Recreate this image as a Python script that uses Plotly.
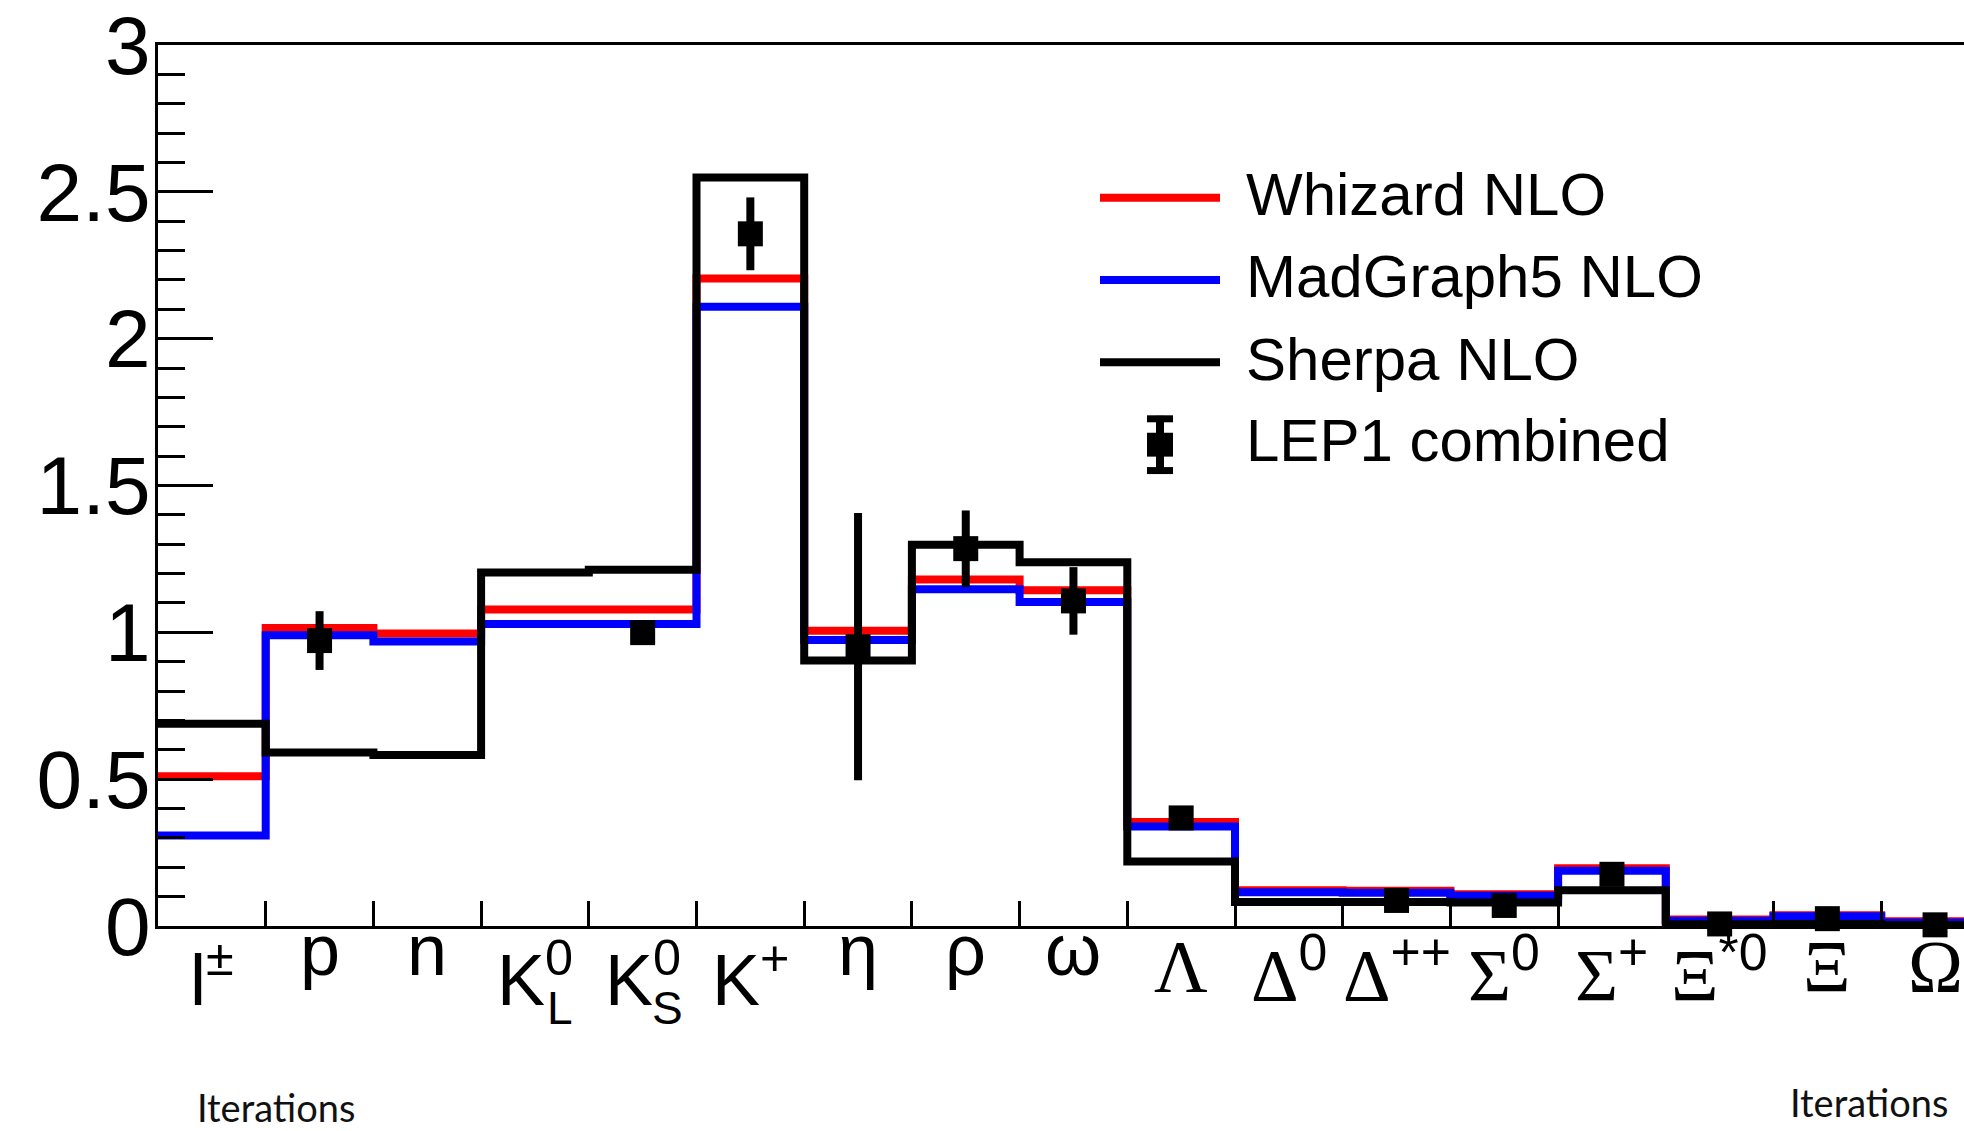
import numpy as np
import plotly.graph_objects as go

# ---- data -------------------------------------------------------------
categories = ["l<sup>±</sup>", "p", "n", "K<sup>0</sup>", "K<sup>0</sup>", "K<sup>+</sup>",
              "η", "ρ", "ω", "Λ", "Δ<sup>0</sup>", "Δ<sup>++</sup>", "Σ<sup>0</sup>",
              "Σ<sup>+</sup>", "Ξ<sup>*0</sup>", "Ξ", "Ω"]
kaon_subscripts = {3: "L", 4: "S"}

whizard = [0.510, 1.015, 0.996, 1.078, 1.078, 2.205, 1.005, 1.180, 1.143,
           0.354, 0.122, 0.120, 0.108, 0.197, 0.022, 0.037, 0.016]
madgraph = [0.308, 0.990, 0.969, 1.028, 1.028, 2.109, 0.974, 1.147, 1.103,
            0.339, 0.115, 0.113, 0.103, 0.188, 0.018, 0.033, 0.012]
sherpa = [0.689, 0.591, 0.582, 1.204, 1.213, 2.549, 0.904, 1.298, 1.239,
          0.220, 0.082, 0.082, 0.080, 0.122, 0.006, 0.007, 0.003]

lep_bins = [1, 4, 5, 6, 7, 8, 9, 11, 12, 13, 14, 15, 16]
lep_values = [0.972, 0.999, 2.357, 0.951, 1.285, 1.107, 0.368, 0.087, 0.070,
              0.176, 0.007, 0.025, 0.004]
lep_errors = [0.100, 0.020, 0.124, 0.455, 0.130, 0.115, 0.010, 0.010, 0.010,
              0.010, 0.003, 0.002, 0.001]

y_tick_vals = [0, 0.5, 1, 1.5, 2, 2.5, 3]
y_tick_text = ["0", "0.5", "1", "1.5", "2", "2.5", "3"]

# ---- page geometry ----------------------------------------------------
W, H = 1964, 1131
LEFT, TOP, BOTTOM = 158, 41, 205
BIN_PX = 107.7
plot_w = W - LEFT
plot_h = H - TOP - BOTTOM
x_max = plot_w / BIN_PX

SANS = "Liberation Sans"
SERIF = "Liberation Serif"
GREEK_CAPS = "ΛΔΣΞΩ"


def px_x(px):
    return (px - LEFT) / plot_w


def px_y(py):
    return (H - BOTTOM - py) / plot_h


n_bins = len(categories)
edges = np.arange(n_bins + 1)
centers = np.arange(n_bins) + 0.5

fig = go.Figure()


def step_trace(values, color, name):
    return go.Scatter(
        x=edges, y=list(values) + [values[-1]], mode="lines", name=name,
        line=dict(color=color, width=8, shape="hv"), showlegend=False,
    )


fig.add_trace(step_trace(whizard, "#ff0000", "Whizard NLO"))
fig.add_trace(step_trace(madgraph, "#0000ff", "MadGraph5 NLO"))
fig.add_trace(step_trace(sherpa, "#000000", "Sherpa NLO"))

fig.add_trace(go.Scatter(
    x=[centers[i] for i in lep_bins], y=lep_values, mode="markers",
    name="LEP1 combined", showlegend=False, cliponaxis=False,
    marker=dict(symbol="square", size=25, color="black"),
    error_y=dict(type="data", array=lep_errors, thickness=8, width=0, color="black"),
))

# ---- legend drawn by hand --------------------------------------------
shapes = []
annotations = []
legend_rows = [("Whizard NLO", "#ff0000", 194.5, 191.3),
               ("MadGraph5 NLO", "#0000ff", 277.0, 274.0),
               ("Sherpa NLO", "#000000", 359.7, 357.0)]
for text, color, ly, ty in legend_rows:
    shapes.append(dict(type="line", xref="paper", yref="paper",
                       x0=px_x(1100), x1=px_x(1220), y0=px_y(ly), y1=px_y(ly),
                       line=dict(color=color, width=8)))
    annotations.append(dict(text=text, xref="paper", yref="paper",
                            x=px_x(1244), y=px_y(ty), xanchor="left", yanchor="middle",
                            showarrow=False, font=dict(family=SANS, size=60, color="black")))

# data symbol in the legend: error bar with caps and a square marker
cx, cy = 1160, 442.5
shapes += [
    dict(type="line", xref="paper", yref="paper", x0=px_x(cx), x1=px_x(cx),
         y0=px_y(cy - 29), y1=px_y(cy + 29), line=dict(color="black", width=8)),
    dict(type="line", xref="paper", yref="paper", x0=px_x(cx - 13), x1=px_x(cx + 13),
         y0=px_y(cy - 26), y1=px_y(cy - 26), line=dict(color="black", width=7)),
    dict(type="line", xref="paper", yref="paper", x0=px_x(cx - 13), x1=px_x(cx + 13),
         y0=px_y(cy + 26), y1=px_y(cy + 26), line=dict(color="black", width=7)),
    dict(type="rect", xref="paper", yref="paper", x0=px_x(cx - 13), x1=px_x(cx + 13),
         y0=px_y(cy - 12), y1=px_y(cy + 12), line=dict(width=0), fillcolor="black"),
]
annotations.append(dict(text="LEP1 combined", xref="paper", yref="paper",
                        x=px_x(1244), y=px_y(438.7), xanchor="left", yanchor="middle",
                        showarrow=False, font=dict(family=SANS, size=60, color="black")))

# bin labels hung from a common top line under the axis.  Capital Greek
# letters use a serif face (their superscripts stay sans); labels with a
# superscript or a serif capital sit a little lower.
for i, label in enumerate(categories):
    serif = label[0] in GREEK_CAPS
    has_sup = "<sup>" in label
    if serif:
        text = label.replace("<sup>", f"<sup><span style='font-family:{SANS}'>") \
                    .replace("</sup>", "</span></sup>")
        shift = -13 if has_sup else -16
    else:
        text = label
        shift = -19 if has_sup else 0
    annotations.append(dict(text=text, xref="x", yref="paper",
                            x=centers[i], y=px_y(908), xanchor="center", yanchor="top",
                            yshift=shift, showarrow=False,
                            font=dict(family=SERIF if serif else SANS,
                                      size=74 if serif else 72, color="black")))

# subscripts of the neutral kaons, stacked under the superscript
for idx, sub in kaon_subscripts.items():
    annotations.append(dict(text=sub, xref="x", yref="paper", x=centers[idx],
                            y=px_y(1008), xshift=25, xanchor="center", yanchor="middle",
                            showarrow=False, font=dict(family=SANS, size=46, color="black")))

# captions along the bottom edge
annotations.append(dict(text="Iterations", xref="paper", yref="paper",
                        x=px_x(276), y=px_y(1131), xanchor="center", yanchor="bottom",
                        borderpad=0, borderwidth=0, showarrow=False,
                        font=dict(family="Lato", size=38, color="#111111")))
annotations.append(dict(text="Iterations", xref="paper", yref="paper",
                        x=px_x(1869), y=px_y(1126), xanchor="center", yanchor="bottom",
                        borderpad=0, borderwidth=0, showarrow=False,
                        font=dict(family="Lato", size=38, color="#111111")))

fig.update_layout(
    width=W, height=H,
    margin=dict(l=LEFT, r=0, t=TOP, b=BOTTOM, pad=0),
    paper_bgcolor="white", plot_bgcolor="white",
    showlegend=False,
    shapes=shapes, annotations=annotations,
    xaxis=dict(
        range=[0, x_max], showgrid=False, zeroline=False,
        showline=True, linecolor="black", linewidth=3, mirror=True,
        tickmode="array", tickvals=edges[1:-1], showticklabels=False,
        ticks="inside", ticklen=25, tickwidth=3, tickcolor="black",
    ),
    yaxis=dict(
        range=[0, 3], showgrid=False, zeroline=False,
        showline=True, linecolor="black", linewidth=3,
        tickmode="array", tickvals=y_tick_vals, ticktext=y_tick_text,
        ticks="inside", ticklen=55, tickwidth=3, tickcolor="black",
        ticklabelstandoff=-12, ticklabeloverflow="allow",
        tickfont=dict(family=SANS, size=82, color="black"),
        minor=dict(dtick=0.1, ticks="inside", ticklen=27, tickwidth=3,
                   tickcolor="black", showgrid=False),
    ),
)

fig.write_html("out.html")
